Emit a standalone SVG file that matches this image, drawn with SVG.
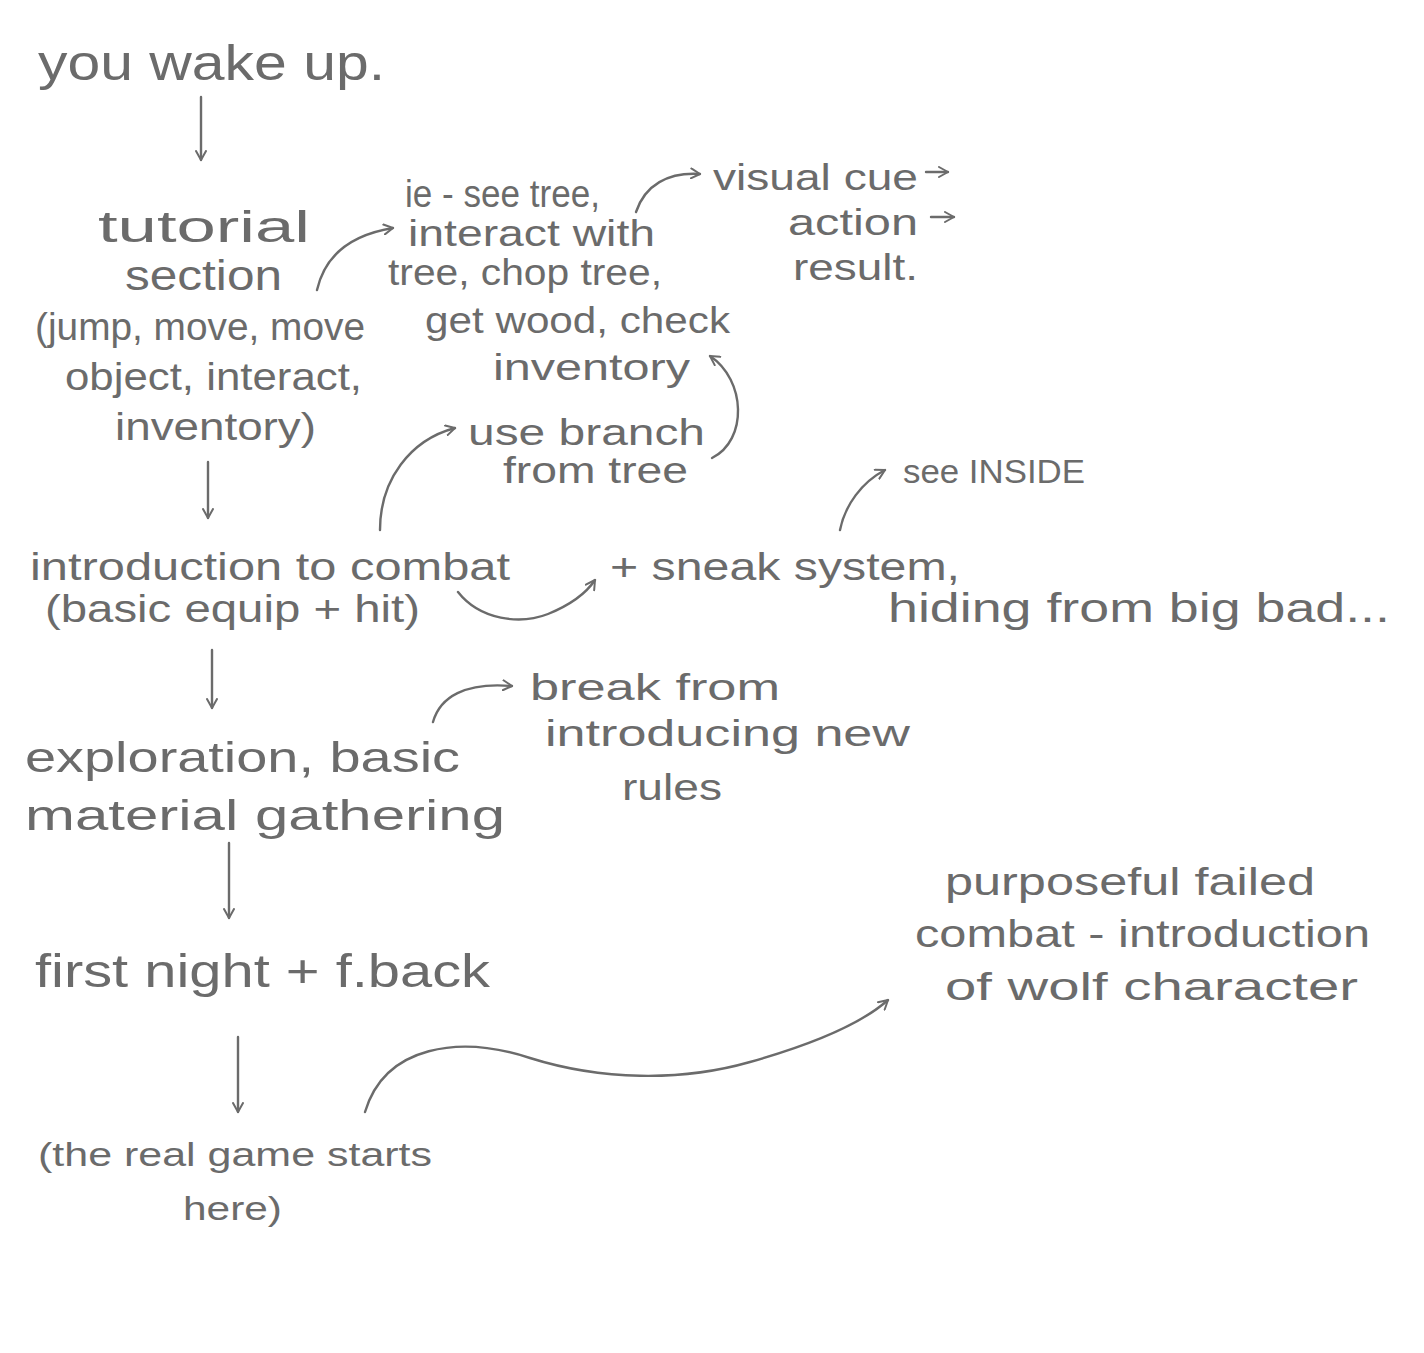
<svg xmlns="http://www.w3.org/2000/svg" width="1424" height="1353" viewBox="0 0 1424 1353">
<defs>
<marker id="ah" viewBox="0 0 12 12" refX="10" refY="6" markerWidth="12" markerHeight="12" markerUnits="userSpaceOnUse" orient="auto">
<path d="M1,1 L10,6 L1,11" fill="none" stroke="#6b6b6b" stroke-width="2" stroke-linecap="round" stroke-linejoin="round"/>
</marker>
<style>
text{font-family:"Liberation Sans","DejaVu Sans",sans-serif;fill:#6b6b6b;font-weight:normal}
.a{fill:none;stroke:#6b6b6b;stroke-width:2.4;stroke-linecap:round;marker-end:url(#ah)}
</style>
</defs>
<rect width="1424" height="1353" fill="#ffffff"/>
<g id="connectors">
<path class="a" d="M201,97 L201,160"/>
<path class="a" d="M317,290 C325,255 350,235 393,228"/>
<path class="a" d="M636,212 C645,185 668,172 700,174"/>
<path class="a" d="M926,172 L948,172"/>
<path class="a" d="M931,217 L954,217"/>
<path class="a" d="M712,458 C748,440 746,380 710,356"/>
<path class="a" d="M380,530 C380,480 410,440 455,428"/>
<path class="a" d="M208,462 L208,518"/>
<path class="a" d="M458,592 C480,620 520,625 548,614 C570,605 585,595 595,580"/>
<path class="a" d="M840,530 C845,505 862,482 885,470"/>
<path class="a" d="M212,650 L212,708"/>
<path class="a" d="M433,722 C440,697 465,682 512,686"/>
<path class="a" d="M229,843 L229,918"/>
<path class="a" d="M238,1037 L238,1112"/>
<path class="a" d="M365,1112 C385,1045 460,1035 530,1058 C600,1080 680,1082 750,1062 C810,1045 860,1025 888,1000"/>
</g>
<g id="n1"><text x="38" y="80" font-size="50" textLength="347" lengthAdjust="spacingAndGlyphs">you wake up.</text></g>
<g id="n2">
<text x="98" y="242" font-size="44" textLength="212" lengthAdjust="spacingAndGlyphs">tutorial</text>
<text x="125" y="290" font-size="42" textLength="157" lengthAdjust="spacingAndGlyphs">section</text>
<text x="35" y="340" font-size="38" textLength="330" lengthAdjust="spacingAndGlyphs">(jump, move, move</text>
<text x="65" y="390" font-size="38" textLength="297" lengthAdjust="spacingAndGlyphs">object, interact,</text>
<text x="115" y="440" font-size="38" textLength="201" lengthAdjust="spacingAndGlyphs">inventory)</text>
</g>
<g id="n3">
<text x="405" y="207" font-size="38" textLength="195" lengthAdjust="spacingAndGlyphs">ie - see tree,</text>
<text x="408" y="246" font-size="36" textLength="247" lengthAdjust="spacingAndGlyphs">interact with</text>
<text x="388" y="285" font-size="36" textLength="274" lengthAdjust="spacingAndGlyphs">tree, chop tree,</text>
<text x="425" y="333" font-size="36" textLength="305" lengthAdjust="spacingAndGlyphs">get wood, check</text>
<text x="493" y="380" font-size="36" textLength="197" lengthAdjust="spacingAndGlyphs">inventory</text>
</g>
<g id="n4">
<text x="713" y="190" font-size="36" textLength="205" lengthAdjust="spacingAndGlyphs">visual cue</text>
<text x="788" y="235" font-size="36" textLength="130" lengthAdjust="spacingAndGlyphs">action</text>
<text x="793" y="280" font-size="36" textLength="125" lengthAdjust="spacingAndGlyphs">result.</text>
</g>
<g id="n5">
<text x="468" y="445" font-size="36" textLength="237" lengthAdjust="spacingAndGlyphs">use branch</text>
<text x="503" y="483" font-size="36" textLength="185" lengthAdjust="spacingAndGlyphs">from tree</text>
</g>
<g id="n6">
<text x="30" y="580" font-size="38" textLength="480" lengthAdjust="spacingAndGlyphs">introduction to combat</text>
<text x="45" y="622" font-size="38" textLength="375" lengthAdjust="spacingAndGlyphs">(basic equip + hit)</text>
</g>
<g id="n7">
<text x="610" y="580" font-size="38" textLength="350" lengthAdjust="spacingAndGlyphs">+ sneak system,</text>
<text x="888" y="622" font-size="40" textLength="502" lengthAdjust="spacingAndGlyphs">hiding from big bad...</text>
</g>
<g id="n8"><text x="903" y="483" font-size="34" textLength="182" lengthAdjust="spacingAndGlyphs">see INSIDE</text></g>
<g id="n9">
<text x="25" y="772" font-size="42" textLength="435" lengthAdjust="spacingAndGlyphs">exploration, basic</text>
<text x="25" y="830" font-size="42" textLength="480" lengthAdjust="spacingAndGlyphs">material gathering</text>
</g>
<g id="n10">
<text x="530" y="700" font-size="36" textLength="250" lengthAdjust="spacingAndGlyphs">break from</text>
<text x="545" y="746" font-size="36" textLength="365" lengthAdjust="spacingAndGlyphs">introducing new</text>
<text x="622" y="800" font-size="36" textLength="100" lengthAdjust="spacingAndGlyphs">rules</text>
</g>
<g id="n11"><text x="35" y="987" font-size="46" textLength="455" lengthAdjust="spacingAndGlyphs">first night + f.back</text></g>
<g id="n12">
<text x="38" y="1166" font-size="34" textLength="394" lengthAdjust="spacingAndGlyphs">(the real game starts</text>
<text x="183" y="1220" font-size="34" textLength="99" lengthAdjust="spacingAndGlyphs">here)</text>
</g>
<g id="n13">
<text x="945" y="895" font-size="38" textLength="370" lengthAdjust="spacingAndGlyphs">purposeful failed</text>
<text x="915" y="947" font-size="38" textLength="455" lengthAdjust="spacingAndGlyphs">combat - introduction</text>
<text x="945" y="1000" font-size="38" textLength="413" lengthAdjust="spacingAndGlyphs">of wolf character</text>
</g>
</svg>
